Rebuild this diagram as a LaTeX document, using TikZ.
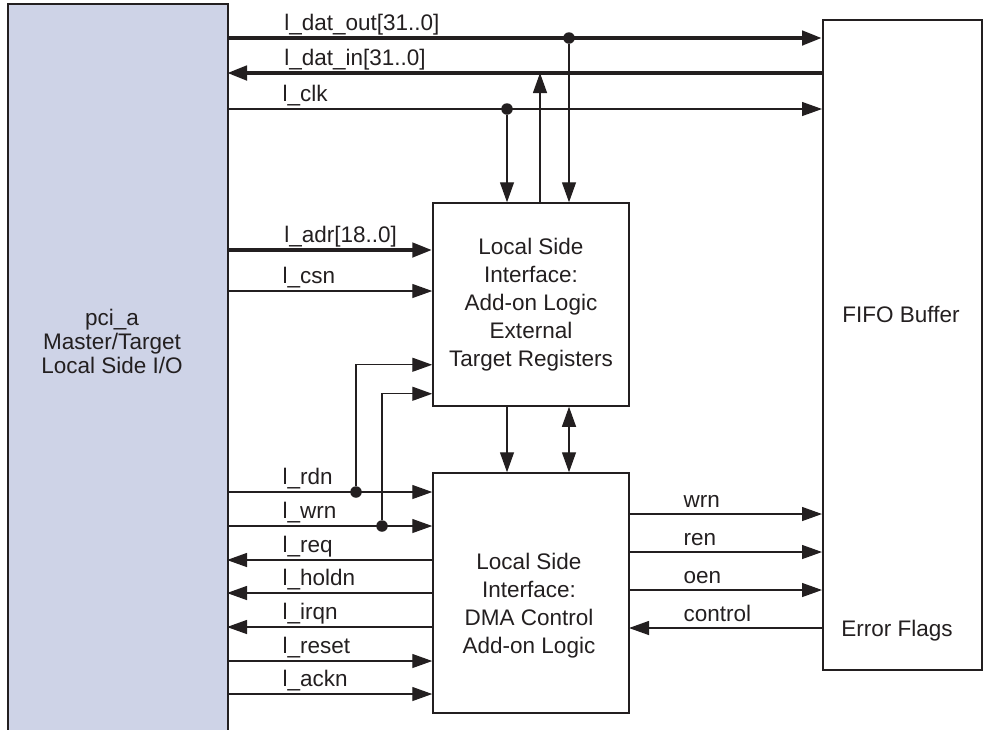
\documentclass[tikz,border=0pt]{standalone}
\usepackage{fontspec}
\setmainfont{Liberation Sans}
\usepackage{xcolor}
\usetikzlibrary{arrows.meta, positioning, calc}

\definecolor{ink}{HTML}{231F20}
\definecolor{pcifill}{HTML}{CED3E7}

\begin{document}
\begin{tikzpicture}[x=1pt,y=-1pt,>={Triangle[length=20pt,width=14pt]},color=ink,line width=1.3pt,font=\fontsize{22.5}{28}\selectfont,
  block/.style={draw=ink,line width=1.5pt,rectangle,inner sep=0pt,align=center},
  bus/.style={line width=4.5pt},
  sig/.style={anchor=base west,inner sep=0pt},
  tap/.style={circle,fill=ink,inner sep=0pt,minimum size=11.5pt}]
  \useasboundingbox (0,0) rectangle (984,729);

  % blocks
  \node[block,fill=pcifill,minimum width=220pt,minimum height=740pt,anchor=north west] (pci) at (7,3) {};
  \node[align=center,font=\fontsize{22.5}{24}\selectfont] (pcitext) at (112,341) {pci\_a\\Master/Target\\Local Side I/O};
  \node[block,minimum width=196pt,minimum height=203pt] (regs) at (531,304.5) {Local Side\\Interface:\\Add-on Logic\\External\\Target Registers};
  \node[block,minimum width=196pt,minimum height=240pt] (dma) at (531,593) {};
  \node[align=center] (dmatext) at (529,606) {Local Side\\Interface:\\DMA Control\\Add-on Logic};
  \node[block,minimum width=159pt,minimum height=650pt,anchor=north west] (fifo) at (822,19) {};
  \node[anchor=base] (fifotext) at (901,322) {FIFO Buffer};
  \node[anchor=base] (errtext) at (897,636) {Error Flags};

  % pci side ports
  \coordinate (datout) at (227,38);
  \coordinate (datin) at (227,73);
  \coordinate (clk) at (227,109);
  \coordinate (adr) at (227,250);
  \coordinate (csn) at (227,291);
  \coordinate (rdn) at (227,492);
  \coordinate (wrn) at (227,526);
  \coordinate (req) at (227,560);
  \coordinate (holdn) at (227,593);
  \coordinate (irqn) at (227,627);
  \coordinate (reset) at (227,661);
  \coordinate (ackn) at (227,694);

  % data path to the fifo
  \draw[bus,->] (datout) -- (fifo.west |- datout) node[sig,at start,xshift=55pt,yshift=7.5pt] (lbl-datout) {l\_dat\_out[31..0]};
  \draw[bus,<-] (datin) -- (fifo.west |- datin) node[sig,at start,xshift=55pt,yshift=7.5pt] (lbl-datin) {l\_dat\_in[31..0]};
  \draw[->] (clk) -- (fifo.west |- clk) node[sig,at start,xshift=55pt,yshift=7.5pt] (lbl-clk) {l\_clk};
  \node[tap] (outtap) at ([xshift=38pt]regs.north |- datout) {};
  \node[tap] (clktap) at ([xshift=-24pt]regs.north |- clk) {};
  \draw[->] (clktap) -- ([xshift=-24pt]regs.north);
  \draw[->] ([xshift=9pt]regs.north) -- ([xshift=9pt]regs.north |- datin);
  \draw[->] (outtap) -- ([xshift=38pt]regs.north);

  % register inputs
  \draw[bus,->] (adr) -- (regs.west |- adr) node[sig,at start,xshift=55pt,yshift=7.5pt] (lbl-adr) {l\_adr[18..0]};
  \draw[->] (csn) -- (regs.west |- csn) node[sig,at start,xshift=55pt,yshift=7.5pt] (lbl-csn) {l\_csn};

  % between the two interfaces
  \draw[->] ([xshift=-24pt]regs.south) -- ([xshift=-24pt]dma.north);
  \draw[<->] ([xshift=38pt]regs.south) -- ([xshift=38pt]dma.north);

  % dma control signals
  \draw[->] (rdn) -- (dma.west |- rdn) node[sig,at start,xshift=55pt,yshift=7.5pt] (lbl-rdn) {l\_rdn};
  \draw[->] (wrn) -- (dma.west |- wrn) node[sig,at start,xshift=55pt,yshift=7.5pt] (lbl-wrn) {l\_wrn};
  \node[tap] (rdntap) at (356,492) {};
  \node[tap] (wrntap) at (382,526) {};
  \draw[->] (rdntap) |- ([yshift=42pt]regs.south west);
  \draw[->] (wrntap) |- ([yshift=13pt]regs.south west);
  \draw[<-] (req) -- (dma.west |- req) node[sig,at start,xshift=55pt,yshift=7.5pt] (lbl-req) {l\_req};
  \draw[<-] (holdn) -- (dma.west |- holdn) node[sig,at start,xshift=55pt,yshift=7.5pt] (lbl-holdn) {l\_holdn};
  \draw[<-] (irqn) -- (dma.west |- irqn) node[sig,at start,xshift=55pt,yshift=7.5pt] (lbl-irqn) {l\_irqn};
  \draw[->] (reset) -- (dma.west |- reset) node[sig,at start,xshift=55pt,yshift=7.5pt] (lbl-reset) {l\_reset};
  \draw[->] (ackn) -- (dma.west |- ackn) node[sig,at start,xshift=55pt,yshift=7.5pt] (lbl-ackn) {l\_ackn};

  % fifo control
  \coordinate (fwrn) at (629,514);
  \coordinate (fren) at (629,552);
  \coordinate (foen) at (629,590);
  \coordinate (fctl) at (629,628);
  \draw[->] (fwrn) -- (fifo.west |- fwrn) node[sig,at start,xshift=54pt,yshift=6.5pt] (lbl-fwrn) {wrn};
  \draw[->] (fren) -- (fifo.west |- fren) node[sig,at start,xshift=54pt,yshift=6.5pt] (lbl-fren) {ren};
  \draw[->] (foen) -- (fifo.west |- foen) node[sig,at start,xshift=54pt,yshift=6.5pt] (lbl-foen) {oen};
  \draw[<-] (fctl) -- (fifo.west |- fctl) node[sig,at start,xshift=54pt,yshift=6.5pt] (lbl-fctl) {control};
\end{tikzpicture}
\end{document}
